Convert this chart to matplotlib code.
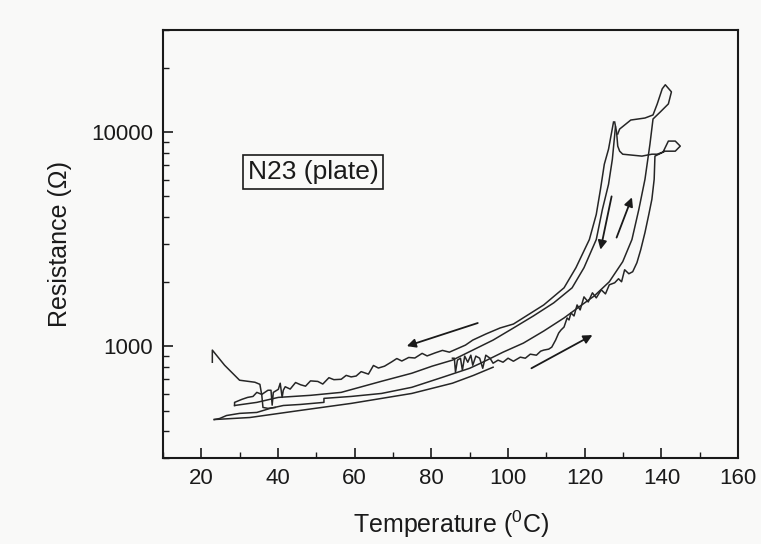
import matplotlib
matplotlib.use("Agg")
import matplotlib.pyplot as plt
from matplotlib.ticker import LogLocator, NullFormatter, FixedLocator, MultipleLocator

plt.rcParams['font.family'] = ['Liberation Sans', 'DejaVu Sans']
plt.rcParams['mathtext.fontset'] = 'custom'
plt.rcParams['mathtext.rm'] = 'Liberation Sans'

# ---- data (Temperature in degC, Resistance in Ohm) ----
# cooling branch from the 127 C peak, noisy at low temperature
tA = [127.5, 126.2, 125.1, 124.1, 123.0, 121.2, 117.7, 114.6, 109.3, 101.4, 97.9, 94.2, 90.8, 88.9, 84.7,
      82.9, 81.0, 78.9, 77.6, 75.7, 74.1, 72.3, 71.0, 69.7, 67.8, 66.2, 64.9, 63.6, 61.7, 60.4, 59.1,
      57.8, 56.5, 54.6, 53.3, 51.7, 50.4, 48.5, 47.2, 45.9, 44.6, 43.2, 41.9, 41.4, 41.1, 40.6, 40.1,
      38.8, 38.5, 38.2, 37.4, 35.8, 34.5, 33.5, 32.1, 30.6, 28.7, 28.7]
rA = [11140, 8320, 7075, 5400, 4121, 3146, 2324, 1872, 1557, 1268, 1215, 1139, 1067, 1011, 937,
      955, 930, 900, 925, 880, 885, 852, 875, 845, 806, 790, 812, 740, 760, 725, 718,
      730, 700, 697, 712, 665, 684, 688, 650, 660, 676, 630, 646, 622, 576, 671, 628,
      608, 530, 622, 622, 595, 608, 582, 576, 564, 546, 528]

# second branch (inner line next to the peak)
tB = [128.0, 127.2, 126.2, 124.6, 123.0, 119.8, 116.7, 111.9, 106.6, 101.4, 96.1, 90.8, 85.5, 80.2,
      74.9, 67.0, 56.5, 48.5, 40.1, 34.5, 28.7]
rB = [10556, 7470, 5699, 4350, 3146, 2324, 1872, 1592, 1383, 1215, 1067, 958, 860, 806,
      747, 685, 608, 589, 576, 546, 528]

# heating branch ending in the loop near 141 C
tC = [23.4, 24.8, 26.6, 30.0, 34.5, 38.0, 41.4, 45.9, 52.0, 52.0, 59.1, 67.0, 74.9, 82.9, 90.0, 93.4,
      98.7, 104.0, 109.3, 114.6, 118.5, 122.5, 126.4, 129.9, 132.3, 134.1, 135.7, 137.0, 137.8,
      139.7, 141.8, 142.6, 141.0, 140.2, 138.9, 137.8, 135.7, 132.0, 129.1, 128.6]
rC = [454, 459, 474, 485, 490, 512, 528, 534, 546, 570, 582, 601, 642, 715, 788, 841,
      937, 1033, 1176, 1354, 1524, 1717, 1998, 2480, 3146, 4350, 6015, 8784, 11510,
      12415, 13535, 15410, 16630, 15920, 13535, 12020, 11630, 11380, 10330, 9790]

# noisy heating branch ending with the bump near 145 C and back to the peak
tD = [85.5, 86.0, 86.3, 86.8, 87.6, 88.1, 88.7, 89.5, 90.3, 90.8, 91.6, 92.6, 93.4, 94.2, 95.3, 96.1,
      97.4, 98.7, 100.0, 101.4, 103.2, 104.5, 105.8, 107.4, 108.5, 109.3, 110.6, 111.4, 112.4, 113.2,
      113.8, 114.6, 115.4, 115.9, 116.4, 117.2, 118.0, 118.8, 119.8, 120.9, 122.0, 123.0, 124.3,
      125.4, 126.4, 127.8, 128.8, 129.6, 130.4, 131.5, 132.5, 133.6, 134.6, 135.7, 136.7, 137.5,
      138.1, 138.3, 140.4, 141.8, 143.6, 144.9, 143.6, 141.0, 138.9, 137.5, 134.9, 129.9, 129.1,
      128.6, 128.3, 127.8]
rD = [878, 878, 755, 860, 878, 771, 898, 841, 907, 814, 898, 878, 788, 907, 878, 832,
      860, 841, 878, 850, 888, 878, 917, 907, 947, 958, 968, 989, 1067, 1151,
      1189, 1228, 1354, 1325, 1429, 1383, 1557, 1476, 1698, 1608, 1774, 1680, 1832,
      1754, 1934, 1976, 2064, 1998, 2274, 2178, 2226, 2453, 2823, 3393, 4121, 4850,
      6015, 7720, 8055, 9074, 9074, 8597, 8140, 8140, 7880, 7880, 7720, 7880, 8140,
      8597, 10000, 11140]

# lowest smooth heating line
tE = [23.4, 32.7, 45.9, 59.1, 74.9, 85.5, 91.0, 96.1]
rE = [454, 464, 501, 540, 601, 671, 730, 797]

# start-up transient at room temperature
tF = [22.9, 22.9, 26.1, 30.0, 34.0, 35.3, 35.8, 36.1, 37.4, 39.3]
rF = [841, 958, 814, 693, 678, 663, 589, 517, 512, 517]

# direction arrows: (T_start, R_start, T_end, R_end)
arrows = [
    (92.1, 1282, 73.6, 1000),
    (106.1, 788, 122.0, 1126),
    (127.0, 5006, 124.1, 2823),
    (128.3, 3214, 132.3, 4953),
]

label_text = "N23 (plate)"
x_ticks = [20, 40, 60, 80, 100, 120, 140, 160]
y_ticks = [1000, 10000]

# ---- figure ----
bg = '#f9f9f8'
fig = plt.figure(figsize=(7.61, 5.44), dpi=100, facecolor=bg)
ax = fig.add_axes([0.214, 0.158, 0.756, 0.787])
ax.set_facecolor(bg)

lc = '#262626'
for t, r in [(tE, rE), (tC, rC), (tB, rB), (tA, rA), (tD, rD), (tF, rF)]:
    ax.plot(t, r, color=lc, lw=1.1)

for t0, r0, t1, r1 in arrows:
    ax.annotate('', xy=(t1, r1), xytext=(t0, r0),
                arrowprops=dict(arrowstyle='-|>', color='#1a1a1a', lw=1.3, mutation_scale=13,
                                shrinkA=0, shrinkB=0))

ax.set_yscale('log')
ax.set_xlim(10, 160)
ax.set_ylim(300, 30000)

ax.xaxis.set_major_locator(FixedLocator(x_ticks))
ax.xaxis.set_minor_locator(MultipleLocator(10))
ax.yaxis.set_major_locator(FixedLocator(y_ticks))
ax.yaxis.set_minor_locator(LogLocator(base=10, subs=range(2, 10)))
ax.yaxis.set_minor_formatter(NullFormatter())
ax.set_yticklabels([str(v) for v in y_ticks])

ax.tick_params(axis='both', which='major', direction='in', length=7, width=1.2,
               labelsize=16, pad=7, colors='#1a1a1a')
ax.tick_params(axis='both', which='minor', direction='in', length=4, width=1.0, colors='#1a1a1a')
ax.tick_params(top=False, right=False, which='both')

for s in ax.spines.values():
    s.set_linewidth(1.5)
    s.set_color('#1a1a1a')

ax.set_xlabel(r'Temperature ($^{\mathrm{0}}$C)', fontsize=18, color='#1a1a1a', labelpad=14)
ax.set_ylabel('Resistance (\u03a9)', fontsize=18, color='#1a1a1a', labelpad=14)

ax.text(0.261, 0.668, label_text, transform=ax.transAxes, fontsize=19, color='#1a1a1a',
        ha='center', va='center',
        bbox=dict(boxstyle='square,pad=0.18', facecolor='none', edgecolor='#1a1a1a', lw=1.2))

fig.savefig('out.png', dpi=100, facecolor=bg)
